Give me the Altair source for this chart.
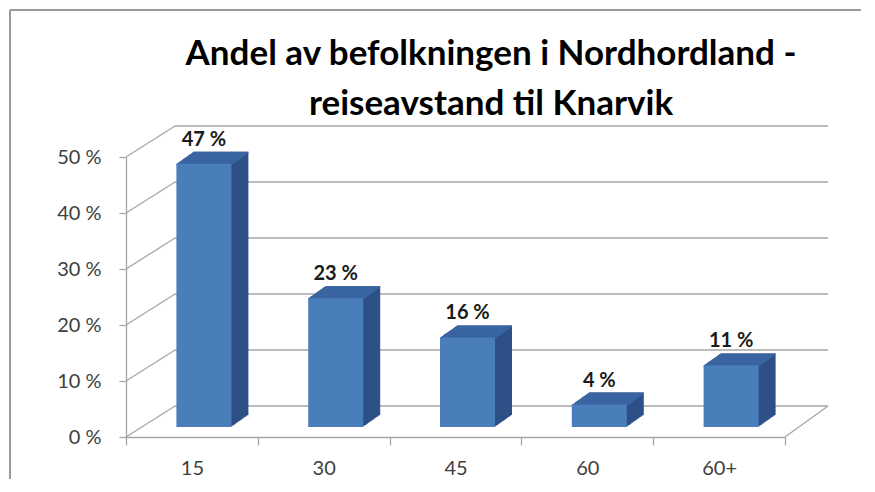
import altair as alt
import pandas as pd

categories = ["15", "30", "45", "60", "60+"]
values = [47, 23, 16, 4, 11]
labels = ["47 %", "23 %", "16 %", "4 %", "11 %"]
tick_values = [0, 10, 20, 30, 40, 50]
title_lines = ["Andel av befolkningen i Nordhordland -", "reiseavstand til Knarvik"]

df = pd.DataFrame({"cat": categories, "val": values, "lab": labels})
grid_df = pd.DataFrame({"g": tick_values})
floor_df = pd.DataFrame({"g": [0]})
one_df = pd.DataFrame({"g": [0]})

W, H = 659, 280
DEPTH_X, DEPTH_Y = 49, 31   # back wall offset
BX, BY = 17, 12             # bar depth
BAR_DX, BAR_DY = 12, 10     # bar plane offset

FRONT = "#4A7EBB"
TOP = "#3A64A2"
SIDE = "#2D5186"
GRID = "#A6A6A6"
FONT = "Lato"

xenc = alt.X("cat:N", sort=categories, title=None,
             scale=alt.Scale(paddingInner=0, paddingOuter=0),
             axis=alt.Axis(labelAngle=0, tickBand="extent", tickSize=8,
                           labelPadding=13, labelFontSize=20, labelColor="#404040",
                           labelFont=FONT, domainColor=GRID, tickColor=GRID,
                           domainWidth=1.3, tickWidth=1.3))
yscale = alt.Scale(domain=[0, 50], nice=False)
yenc = alt.Y("val:Q", scale=yscale, title=None,
             axis=alt.Axis(values=tick_values, labelExpr="datum.value + ' %'",
                           tickSize=7, labelPadding=18, labelFontSize=20,
                           labelColor="#404040", labelFont=FONT, grid=False,
                           domainColor=GRID, tickColor=GRID, domainWidth=1.3, tickWidth=1.3))

base = alt.Chart(df)

layers = []

# frame
layers.append(alt.Chart(one_df).mark_rule(color="#9a9a9a", strokeWidth=2).encode(
    x=alt.value(-116), y=alt.value(-147), y2=alt.value(H + 50)))
layers.append(alt.Chart(one_df).mark_rule(color="#9a9a9a", strokeWidth=2).encode(
    x=alt.value(-116), x2=alt.value(W + 76), y=alt.value(-147)))

# title
for i, line in enumerate(title_lines):
    layers.append(alt.Chart(one_df).mark_text(
        text=line, fontSize=35, font=FONT, fontWeight="bold", color="black",
        align="center", baseline="alphabetic").encode(
        x=alt.value(365), y=alt.value(-92 + 50 * i)))

# back wall gridlines
layers.append(alt.Chart(grid_df).mark_rule(color=GRID, strokeWidth=1.3, yOffset=-DEPTH_Y).encode(
    y=alt.Y("g:Q", scale=yscale), x=alt.value(DEPTH_X), x2=alt.value(W + 43)))
# diagonals from axis
layers.append(alt.Chart(grid_df).mark_rule(color=GRID, strokeWidth=1.3, y2Offset=-DEPTH_Y).encode(
    y=alt.Y("g:Q", scale=yscale), y2="g:Q", x=alt.value(0), x2=alt.value(DEPTH_X)))
# right floor diagonal
layers.append(alt.Chart(floor_df).mark_rule(color=GRID, strokeWidth=1.3, y2Offset=-DEPTH_Y).encode(
    y=alt.Y("g:Q", scale=yscale), y2="g:Q", x=alt.value(W), x2=alt.value(W + 43)))

# bar side sweep
for k in range(1, BX + 1):
    dy = -BAR_DY - k * BY / BX
    layers.append(base.mark_bar(color=SIDE, width=55, xOffset=BAR_DX + k,
                                yOffset=dy, y2Offset=dy).encode(
        x=xenc, y=alt.Y("val:Q", scale=yscale), y2=alt.datum(0)))
# top face sweep
for k in range(0, BX + 1):
    dy = -BAR_DY - k * BY / BX
    layers.append(base.mark_bar(color=TOP, width=55, xOffset=BAR_DX + k,
                                yOffset=dy, y2Offset=dy + 1.5).encode(
        x=xenc, y=alt.Y("val:Q", scale=yscale), y2="val:Q"))
# front face
layers.append(base.mark_bar(color=FRONT, width=55, xOffset=BAR_DX,
                            yOffset=-BAR_DY, y2Offset=-BAR_DY).encode(
    x=xenc, y=yenc, y2=alt.datum(0)))
# labels
layers.append(base.mark_text(fontSize=20, fontWeight="bold", font=FONT,
                             color="#1a1a1a", baseline="alphabetic", xOffset=BAR_DX,
                             yOffset=-BAR_DY - BY - 6).encode(
    x=xenc, y=alt.Y("val:Q", scale=yscale), text="lab:N"))

chart = alt.layer(*layers).properties(
    width=W, height=H,
    background="white",
    autosize=alt.AutoSizeParams(type="none"),
    padding={"left": 118, "top": 149, "right": 82, "bottom": 42},
).configure_view(stroke=None)

chart.save("out.html", embed_options={"renderer": "svg", "actions": False})
